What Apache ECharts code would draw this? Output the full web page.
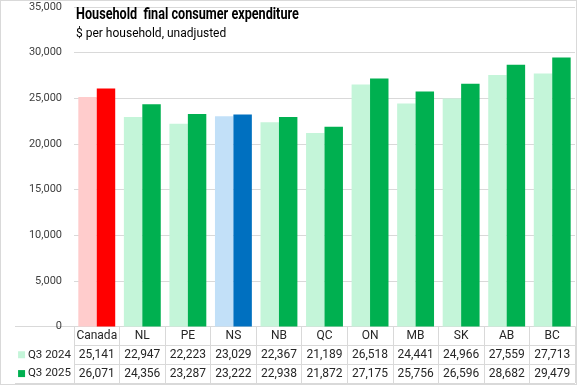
<!DOCTYPE html>
<html>
<head>
<meta charset="utf-8">
<script src="https://cdn.jsdelivr.net/npm/echarts@6/dist/echarts.min.js"></script>
<style>
html,body{margin:0;padding:0;background:#fff;}
#wrap{position:relative;width:577px;height:385px;}
#c{position:absolute;left:0;top:0;width:577px;height:385px;}
#frame{position:absolute;left:0;top:0;width:577px;height:385px;box-sizing:border-box;border:1px solid #d9d9d9;pointer-events:none;z-index:10;}
</style>
</head>
<body>
<div id="wrap"><div id="c"></div><div id="frame"></div></div>
<script>
const categories = ['Canada','NL','PE','NS','NB','QC','ON','MB','SK','AB','BC'];
const seriesNames = ['Q3 2024','Q3 2025'];
const q3_2024 = [25141,22947,22223,23029,22367,21189,26518,24441,24966,27559,27713];
const q3_2025 = [26071,24356,23287,23222,22938,21872,27175,25756,26596,28682,29479];
const yTicks = {min:0, max:35000, interval:5000};
const titleText = 'Household  final consumer expenditure';
const subtitleText = '$ per household, unadjusted';

const baseColors = ['#C4F5D9','#00B050'];
const specialColors = {
  'Canada': ['#FFCCCC','#FF0000'],
  'NS': ['#C2E0F8','#0070C0']
};
const fmt = v => v.toLocaleString('en-US');
const FONT = 'Roboto, "Liberation Sans", sans-serif';

function mkData(vals, si){
  return vals.map((v,i)=>{
    const sc = specialColors[categories[i]];
    return {value:v, itemStyle:{color: sc ? sc[si] : baseColors[si]}};
  });
}

const chart = echarts.init(document.getElementById('c'), null, {renderer:'canvas'});
const rowH = 18.8;
chart.setOption({
  animation:false,
  backgroundColor:'#fff',
  graphic:[
    {type:'text', left:76, top:7, scaleX:0.79, z:100,
     style:{text:titleText, font:'bold 16px Roboto, sans-serif', fill:'#000'}},
    {type:'text', left:76, top:28, z:100,
     style:{text:subtitleText, font:'12px Roboto, sans-serif', fill:'#000'}}
  ],
  grid:[
    {left:74, right:2, top:7, bottom:58.5, containLabel:false},
    {left:74, right:2, top:326.5, bottom:2, containLabel:false}
  ],
  xAxis:[
    {type:'category', gridIndex:0, data:categories,
     axisLine:{show:true, lineStyle:{color:'#d9d9d9', width:1}},
     axisTick:{show:false},
     axisLabel:{
       margin:0, interval:0, fontFamily:FONT, fontSize:12, color:'#262626', lineHeight:rowH,
       formatter:(v, i)=> v + '\n' + fmt(q3_2024[i]) + '\n' + fmt(q3_2025[i])
     },
     splitLine:{show:false}},
    {type:'category', gridIndex:1, data:categories,
     axisLine:{show:false}, axisTick:{show:false}, axisLabel:{show:false},
     splitLine:{show:true, interval:0, lineStyle:{color:'#d9d9d9', width:1}}}
  ],
  yAxis:[
    {type:'value', gridIndex:0, min:yTicks.min, max:yTicks.max, interval:yTicks.interval,
     axisLine:{show:false}, axisTick:{show:false},
     axisLabel:{fontFamily:FONT, fontSize:11, color:'#404040', margin:12, formatter:v=>fmt(v)},
     splitLine:{lineStyle:{color:'#d9d9d9', width:1}}},
    {type:'category', gridIndex:1, inverse:true, data:['', seriesNames[0], seriesNames[1]],
     axisLine:{show:false},
     axisTick:{show:true, length:59, interval:(i)=> i===2, lineStyle:{color:'#d9d9d9'}},
     axisLabel:{margin:3, fontFamily:FONT, fontSize:11.5, color:'#262626',
       formatter:(v,i)=> v==='' ? '' : (i===1 ? '{a|}' : '{b|}') + ' ' + v,
       rich:{
         a:{width:7, height:7, backgroundColor:baseColors[0]},
         b:{width:7, height:7, backgroundColor:baseColors[1]}
       }},
     splitLine:{show:true, interval:0, lineStyle:{color:'#d9d9d9', width:1}}}
  ],
  series:[
    {name:seriesNames[0], type:'bar', xAxisIndex:0, yAxisIndex:0, data:mkData(q3_2024,0), barGap:'0%', barCategoryGap:'19%'},
    {name:seriesNames[1], type:'bar', xAxisIndex:0, yAxisIndex:0, data:mkData(q3_2025,1), barGap:'0%', barCategoryGap:'19%'}
  ]
});
</script>
</body>
</html>
